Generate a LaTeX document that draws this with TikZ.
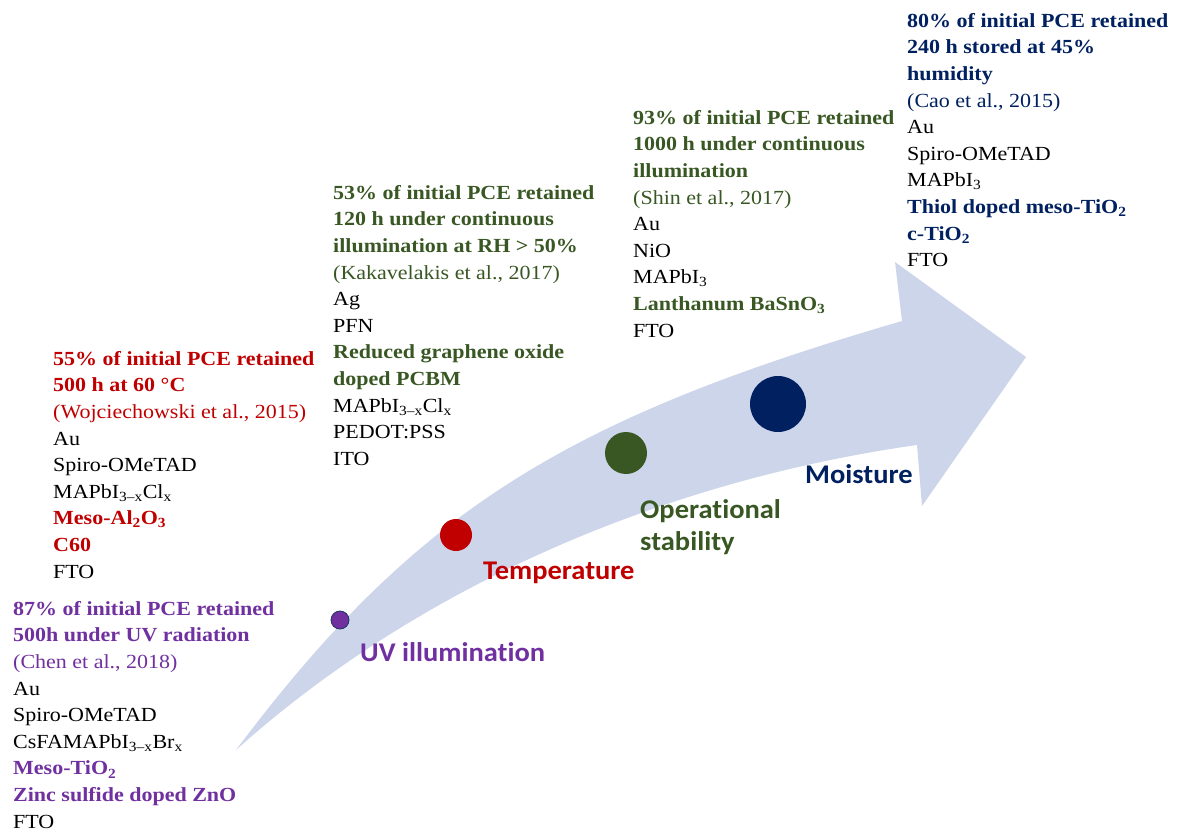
\documentclass[tikz,border=0pt]{standalone}
\usepackage{fontspec}
\setmainfont[FakeStretch=1.1]{Liberation Serif}
\newfontfamily\labelfont[FakeStretch=1.055,RawFeature=-liga]{Carlito}
\definecolor{arrowfill}{HTML}{CDD5EA}
\definecolor{uvpurple}{HTML}{7030A0}
\definecolor{tempred}{HTML}{C00000}
\definecolor{opgreen}{HTML}{385723}
\definecolor{moistnavy}{HTML}{002060}
\definecolor{uvedge}{HTML}{203864}
\tikzset{
  block/.style={anchor=north west, inner sep=0pt, align=left, font=\fontsize{20}{26.6}\selectfont},
  stagelabel/.style={anchor=west, inner sep=0pt, align=left, font=\fontsize{27}{32}\selectfont\labelfont\bfseries},
  dot/.style={circle, inner sep=0pt, draw=none}
}
\begin{document}
\begin{tikzpicture}[x=1pt,y=-1pt]
\useasboundingbox (0,0) rectangle (1180,834);
% big curved arrow
\fill[arrowfill] (236,750) .. controls (416,510) and (566,419) .. (902,321)
  -- (895,262) -- (1026,357) -- (922,506) -- (917,445)
  .. controls (669,480) and (422,583) .. (236,750) -- cycle;
% dots
\node[dot, fill=uvpurple, draw=uvedge, line width=0.8pt, minimum size=18pt] (d1) at (340,620) {};
\node[dot, fill=tempred, minimum size=32pt] (d2) at (456,535) {};
\node[dot, fill=opgreen, minimum size=42pt] (d3) at (626,453) {};
\node[dot, fill=moistnavy, minimum size=56pt] (d4) at (778,404) {};
% stage labels
\node[stagelabel, text=uvpurple] (l1) at (360,652) {UV illumination};
\node[stagelabel, text=tempred] (l2) at (483,573) {Temperature};
\node[stagelabel, text=opgreen] (l3) at (640,527) {Operational\\stability};
\node[stagelabel, text=moistnavy] (l4) at (805,474) {Moisture};
% text blocks
\node[block] (b1) at (13,601) {%
\textcolor{uvpurple}{\textbf{87\% of initial PCE retained}}\\
\textcolor{uvpurple}{\textbf{500h under UV radiation}}\\
\textcolor{uvpurple}{(Chen et al., 2018)}\\
Au\\
Spiro-OMeTAD\\
CsFAMAPbI\textsubscript{3–x}Br\textsubscript{x}\\
\textcolor{uvpurple}{\textbf{Meso-TiO\textsubscript{2}}}\\
\textcolor{uvpurple}{\textbf{Zinc sulfide doped ZnO}}\\
FTO};
\node[block] (b2) at (53,351) {%
\textcolor{tempred}{\textbf{55\% of initial PCE retained}}\\
\textcolor{tempred}{\textbf{500 h at 60 °C}}\\
\textcolor{tempred}{(Wojciechowski et al., 2015)}\\
Au\\
Spiro-OMeTAD\\
MAPbI\textsubscript{3–x}Cl\textsubscript{x}\\
\textcolor{tempred}{\textbf{Meso-Al\textsubscript{2}O\textsubscript{3}}}\\
\textcolor{tempred}{\textbf{C60}}\\
FTO};
\node[block] (b3) at (333,185) {%
\textcolor{opgreen}{\textbf{53\% of initial PCE retained}}\\
\textcolor{opgreen}{\textbf{120 h under continuous}}\\
\textcolor{opgreen}{\textbf{illumination at RH > 50\%}}\\
\textcolor{opgreen}{(Kakavelakis et al., 2017)}\\
Ag\\
PFN\\
\textcolor{opgreen}{\textbf{Reduced graphene oxide}}\\
\textcolor{opgreen}{\textbf{doped PCBM}}\\
MAPbI\textsubscript{3–x}Cl\textsubscript{x}\\
PEDOT:PSS\\
ITO};
\node[block] (b4) at (633,110) {%
\textcolor{opgreen}{\textbf{93\% of initial PCE retained}}\\
\textcolor{opgreen}{\textbf{1000 h under continuous}}\\
\textcolor{opgreen}{\textbf{illumination}}\\
\textcolor{opgreen}{(Shin et al., 2017)}\\
Au\\
NiO\\
MAPbI\textsubscript{3}\\
\textcolor{opgreen}{\textbf{Lanthanum BaSnO\textsubscript{3}}}\\
FTO};
\node[block] (b5) at (907,13) {%
\textcolor{moistnavy}{\textbf{80\% of initial PCE retained}}\\
\textcolor{moistnavy}{\textbf{240 h stored at 45\%}}\\
\textcolor{moistnavy}{\textbf{humidity}}\\
\textcolor{moistnavy}{(Cao et al., 2015)}\\
Au\\
Spiro-OMeTAD\\
MAPbI\textsubscript{3}\\
\textcolor{moistnavy}{\textbf{Thiol doped meso-TiO\textsubscript{2}}}\\
\textcolor{moistnavy}{\textbf{c-TiO\textsubscript{2}}}\\
FTO};
\end{tikzpicture}
\end{document}
